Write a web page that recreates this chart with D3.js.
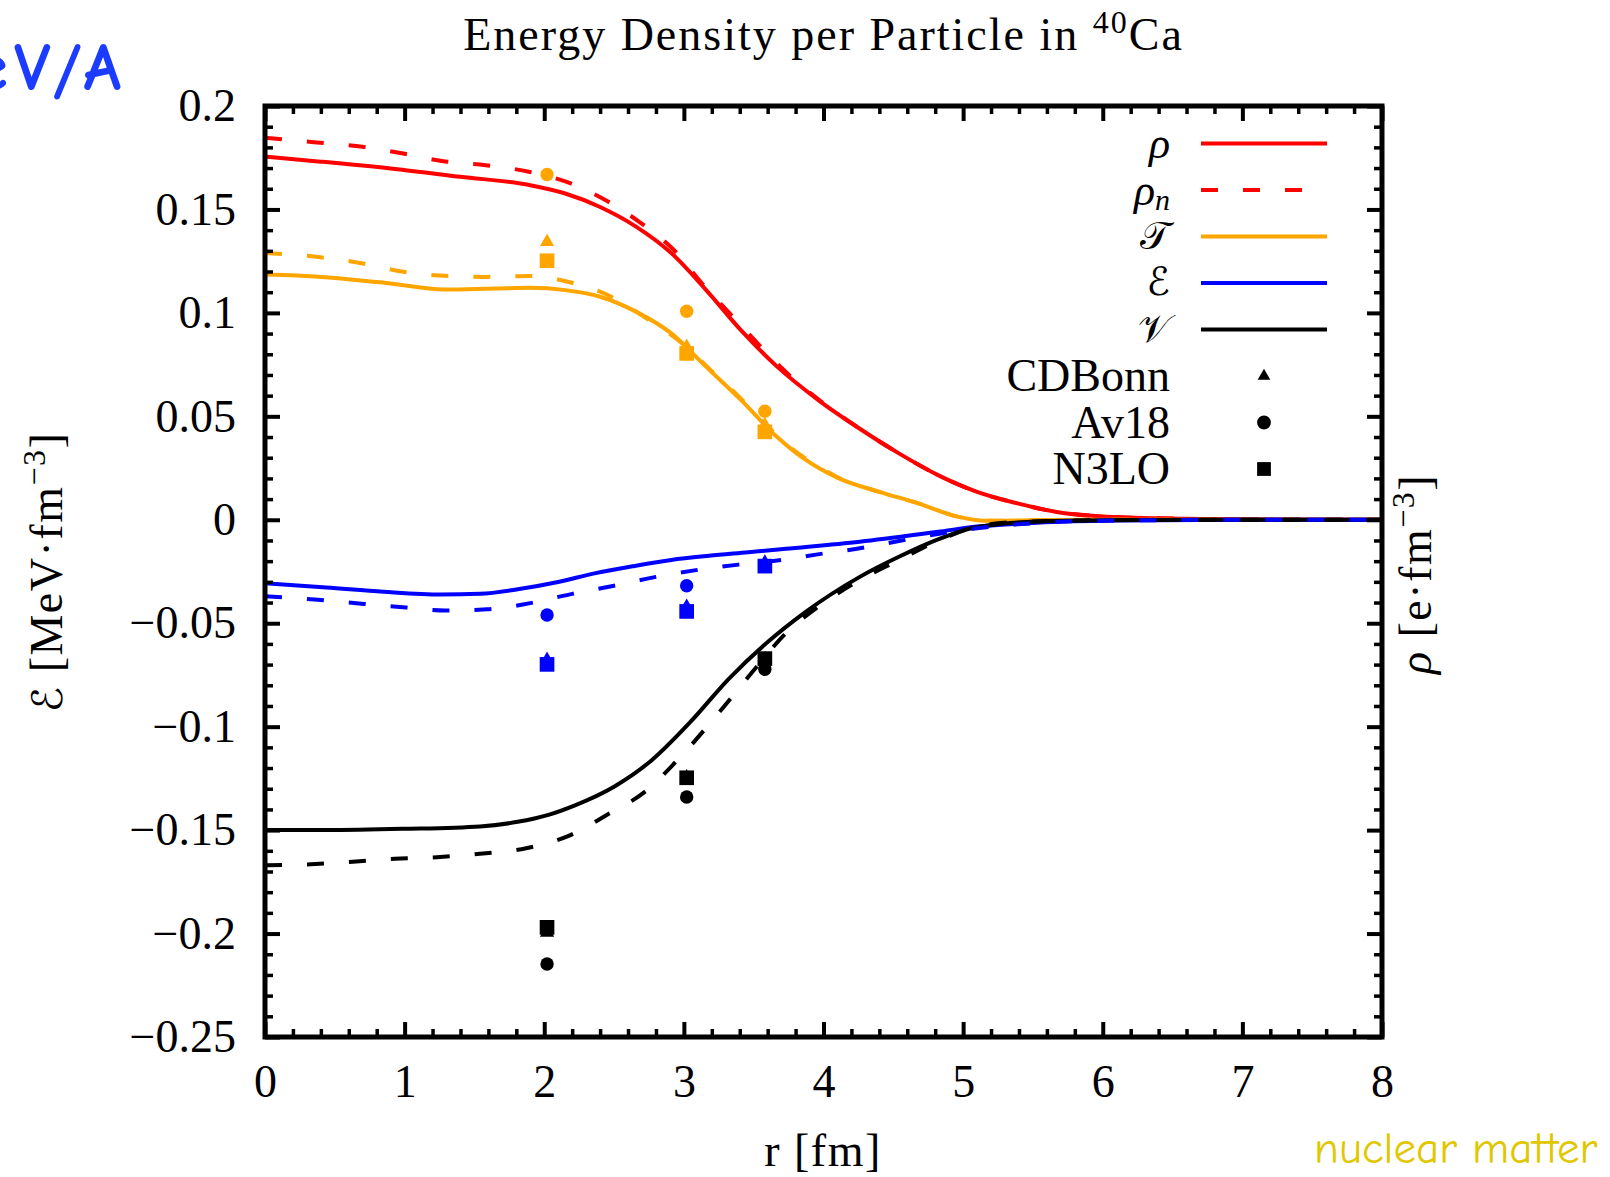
<!DOCTYPE html>
<html>
<head>
<meta charset="utf-8">
<script src="https://cdn.jsdelivr.net/npm/d3@7"></script>
<style>
  html, body { margin: 0; padding: 0; background: #fff; }
  svg { display: block; }
</style>
</head>
<body>
<svg id="chart" width="1610" height="1177"></svg>
<script>
// ---- radial profiles [r (fm), value] ----
const rhoTotal = [[0,0.1755],[0.4,0.1731],[0.9,0.1698],[1.4,0.1658],[1.9,0.1617],[2.15,0.1577],[2.4,0.1512],[2.66,0.1416],[2.91,0.1289],[3.16,0.1110],[3.41,0.0915],[3.66,0.0745],[3.97,0.0575],[4.26,0.0440],[4.54,0.0321],[4.82,0.0216],[5.1,0.0135],[5.39,0.0079],[5.67,0.0038],[5.95,0.0018],[6.4,0.0007],[7.1,0.0002],[8,0]];
const rhoNeutron = [[0,0.1846],[0.37,0.1824],[0.7,0.1803],[0.99,0.1770],[1.29,0.1732],[1.58,0.1714],[1.89,0.1682],[2.19,0.1626],[2.46,0.1537],[2.68,0.1440],[2.93,0.1303],[3.13,0.1142],[3.36,0.0975],[3.56,0.0830],[3.77,0.0690],[3.97,0.0578],[4.26,0.0440],[4.54,0.0321],[4.82,0.0216],[5.1,0.0135],[5.39,0.0079],[5.67,0.0038],[5.95,0.0018],[6.4,0.0007],[7.1,0.0002],[8,0]];
const tauTotal = [[0,0.1185],[0.4,0.1174],[0.9,0.1142],[1.28,0.1113],[1.65,0.1118],[1.9,0.1121],[2.15,0.1110],[2.4,0.1078],[2.66,0.1005],[2.91,0.0901],[3.16,0.0739],[3.41,0.0578],[3.66,0.0405],[3.85,0.0300],[4.11,0.0200],[4.40,0.0135],[4.68,0.0079],[4.96,0.0015],[5.16,-0.0005],[5.5,-0.0002],[6,0],[8,0]];
const tauNeutron = [[0,0.1290],[0.37,0.1271],[0.7,0.1239],[0.99,0.1199],[1.29,0.1179],[1.58,0.1174],[1.89,0.1178],[2.19,0.1147],[2.48,0.1078],[2.75,0.0965],[3.0,0.0846],[3.2,0.0718],[3.38,0.0605],[3.58,0.0465],[3.77,0.0345],[3.97,0.0255],[4.11,0.0202],[4.40,0.0135],[4.68,0.0079],[4.96,0.0015],[5.16,-0.0005],[5.5,-0.0002],[6,0],[8,0]];
const energyTotal = [[0,-0.0307],[0.44,-0.0327],[0.85,-0.0348],[1.26,-0.0361],[1.54,-0.0358],[1.81,-0.0336],[2.09,-0.0302],[2.36,-0.0259],[2.63,-0.0225],[2.91,-0.0194],[3.18,-0.0174],[3.46,-0.0157],[3.73,-0.0140],[4.26,-0.0106],[4.82,-0.0058],[5.1,-0.0033],[5.53,-0.0014],[6.1,-0.0004],[7,0],[8,0]];
const energyNeutron = [[0,-0.0370],[0.38,-0.0387],[0.71,-0.0407],[1.01,-0.0424],[1.29,-0.0438],[1.59,-0.0433],[1.89,-0.0404],[2.2,-0.0358],[2.5,-0.0319],[2.8,-0.0276],[3.1,-0.0242],[3.4,-0.0216],[3.71,-0.0193],[3.97,-0.0166],[4.26,-0.0138],[4.54,-0.0103],[4.82,-0.0069],[5.1,-0.0041],[5.39,-0.0022],[5.95,-0.0005],[7,0],[8,0]];
const potTotal = [[0,-0.1500],[0.44,-0.1500],[0.99,-0.1494],[1.54,-0.1482],[1.81,-0.1460],[2.03,-0.1426],[2.22,-0.1380],[2.5,-0.1290],[2.77,-0.1162],[3.05,-0.0975],[3.32,-0.0770],[3.6,-0.0591],[3.87,-0.0446],[4.26,-0.0276],[4.54,-0.0179],[4.82,-0.0095],[5.05,-0.0042],[5.25,-0.0021],[5.53,-0.0008],[6.0,-0.0002],[7,0],[8,0]];
const potNeutron = [[0,-0.1670],[0.33,-0.1665],[0.63,-0.1653],[0.93,-0.1639],[1.23,-0.1631],[1.54,-0.1614],[1.87,-0.1588],[2.17,-0.1529],[2.45,-0.1426],[2.72,-0.1315],[3.0,-0.1128],[3.24,-0.0941],[3.49,-0.0736],[3.73,-0.0549],[3.98,-0.0412],[4.26,-0.0291],[4.54,-0.0195],[4.82,-0.0101],[5.1,-0.0033],[5.4,-0.0010],[6,-0.0002],[7,0],[8,0]];

// ---- model calculations at selected radii ----
const rPoints = [2.02, 3.02, 3.58];
const tauCDBonn = [0.1343, 0.0836, 0.0458];
const tauAv18   = [0.1669, 0.1008, 0.0525];
const tauN3LO   = [0.1252, 0.0804, 0.0425];
const enCDBonn  = [-0.0677, -0.0420, -0.0207];
const enAv18    = [-0.0460, -0.0319, -0.0222];
const enN3LO    = [-0.0699, -0.0443, -0.0224];
const potCDBonn = [-0.1995, -0.1245, -0.0675];
const potAv18   = [-0.2147, -0.1340, -0.0723];
const potN3LO   = [-0.1970, -0.1247, -0.0671];

// ---- ticks ----
const xTicks = [0,1,2,3,4,5,6,7,8];
const xTickLabels = ["0","1","2","3","4","5","6","7","8"];
const yTicks = [-0.25,-0.2,-0.15,-0.1,-0.05,0,0.05,0.1,0.15,0.2];
const yTickLabels = ["\u22120.25","\u22120.2","\u22120.15","\u22120.1","\u22120.05","0","0.05","0.1","0.15","0.2"];
const xMinorTicks = d3.range(0, 40.5, 1).map(i => i / 5).filter(v => !Number.isInteger(v));
const yMinorTicks = d3.range(-25, 20.5, 1).map(i => i / 100).filter(v => Math.round(v * 100) % 5 !== 0);

// ---- legend ----
const legendLines = [
  {label: "\u03C1", sub: null, script: false, color: "#ff0000", dash: null},
  {label: "\u03C1", sub: "n", script: false, color: "#ff0000", dash: "17,25"},
  {label: "\u{1D4AF}", sub: null, script: true, color: "#ffa500", dash: null},
  {label: "\u2130", sub: null, script: true, color: "#0000ff", dash: null},
  {label: "\u{1D4B1}", sub: null, script: true, color: "#000000", dash: null}
];
const legendModels = ["CDBonn", "Av18", "N3LO"];

const SERIF = "Liberation Serif, Times New Roman, serif";
const HAND = "Comic Sans MS, Comic Neue, DejaVu Sans, sans-serif";

const svg = d3.select("#chart").attr("font-family", SERIF);
const plot = {left: 265, right: 1382, top: 106, bottom: 1037};
const x = d3.scaleLinear().domain([0, 8]).range([plot.left, plot.right]);
const y = d3.scaleLinear().domain([-0.25, 0.2]).range([plot.bottom, plot.top]);

svg.append("rect").attr("width", 1610).attr("height", 1177).attr("fill", "#fff");

// curves
const line = d3.line().x(d => x(d[0])).y(d => y(d[1])).curve(d3.curveMonotoneX);
const curves = [
  {data: rhoTotal, color: "#ff0000", dash: null},
  {data: rhoNeutron, color: "#ff0000", dash: "17,25"},
  {data: tauTotal, color: "#ffa500", dash: null},
  {data: tauNeutron, color: "#ffa500", dash: "17,25"},
  {data: energyTotal, color: "#0000ff", dash: null},
  {data: potTotal, color: "#000000", dash: null},
  {data: potNeutron, color: "#000000", dash: "17,25"},
  {data: energyNeutron, color: "#0000ff", dash: "17,25"}
];
svg.append("g").selectAll("path").data(curves).join("path")
  .attr("d", d => line(d.data))
  .attr("fill", "none")
  .attr("stroke", d => d.color)
  .attr("stroke-width", 4)
  .attr("stroke-dasharray", d => d.dash);

// model points
const shapes = {tri: d3.symbol().type(d3.symbolTriangle).size(88),
                circ: d3.symbol().type(d3.symbolCircle).size(141),
                sq: d3.symbol().type(d3.symbolSquare).size(215)};
const pointSets = [
  {vals: tauCDBonn, shape: "tri", color: "#ffa500"},
  {vals: tauAv18, shape: "circ", color: "#ffa500"},
  {vals: tauN3LO, shape: "sq", color: "#ffa500"},
  {vals: enCDBonn, shape: "tri", color: "#0000ff"},
  {vals: enAv18, shape: "circ", color: "#0000ff"},
  {vals: enN3LO, shape: "sq", color: "#0000ff"},
  {vals: potCDBonn, shape: "tri", color: "#000000"},
  {vals: potAv18, shape: "circ", color: "#000000"},
  {vals: potN3LO, shape: "sq", color: "#000000"}
];
const pts = svg.append("g");
pointSets.forEach(s => {
  pts.selectAll(null).data(s.vals).join("path")
    .attr("transform", (v, i) => `translate(${x(rPoints[i])},${y(v)})`)
    .attr("d", shapes[s.shape])
    .attr("fill", s.color);
});

// axes with inward ticks on all four sides
function styleAxis(g, labels) {
  g.select(".domain").remove();
  g.attr("font-size", 46).attr("font-family", SERIF);
  g.selectAll(".tick line").attr("stroke", "#000").attr("stroke-width", 4);
  g.selectAll(".tick text").attr("fill", "#000");
  if (!labels) g.selectAll(".tick text").remove();
}
function styleMinor(g) {
  g.select(".domain").remove();
  g.selectAll(".tick line").attr("stroke", "#000").attr("stroke-width", 3.5);
  g.selectAll(".tick text").remove();
}
const fmtX = d => xTickLabels[xTicks.indexOf(d)];
const fmtY = d => yTickLabels[yTicks.indexOf(d)];

svg.append("g").attr("transform", `translate(0,${plot.bottom})`)
  .call(d3.axisBottom(x).tickValues(xTicks).tickFormat(fmtX).tickSize(-15).tickPadding(27))
  .call(g => styleAxis(g, true));
svg.append("g").attr("transform", `translate(0,${plot.bottom})`)
  .call(d3.axisBottom(x).tickValues(xMinorTicks).tickSize(-8)).call(styleMinor);
svg.append("g").attr("transform", `translate(0,${plot.top})`)
  .call(d3.axisTop(x).tickValues(xTicks).tickSize(-15)).call(g => styleAxis(g, false));
svg.append("g").attr("transform", `translate(0,${plot.top})`)
  .call(d3.axisTop(x).tickValues(xMinorTicks).tickSize(-8)).call(styleMinor);

svg.append("g").attr("transform", `translate(${plot.left},0)`)
  .call(d3.axisLeft(y).tickValues(yTicks).tickFormat(fmtY).tickSize(-15).tickPadding(29))
  .call(g => styleAxis(g, true));
svg.append("g").attr("transform", `translate(${plot.left},0)`)
  .call(d3.axisLeft(y).tickValues(yMinorTicks).tickSize(-8)).call(styleMinor);
svg.append("g").attr("transform", `translate(${plot.right},0)`)
  .call(d3.axisRight(y).tickValues(yTicks).tickSize(-15)).call(g => styleAxis(g, false));
svg.append("g").attr("transform", `translate(${plot.right},0)`)
  .call(d3.axisRight(y).tickValues(yMinorTicks).tickSize(-8)).call(styleMinor);

// frame
svg.append("rect")
  .attr("x", plot.left).attr("y", plot.top)
  .attr("width", plot.right - plot.left).attr("height", plot.bottom - plot.top)
  .attr("fill", "none").attr("stroke", "#000").attr("stroke-width", 5);

// legend
const lg = svg.append("g");
const rowY = i => 143.5 + i * 46.5;
const legendTextX = 1170;
legendLines.forEach((d, i) => {
  const t = lg.append("text").attr("x", legendTextX).attr("y", rowY(i)).attr("dy", "0.33em")
    .attr("text-anchor", "end").attr("font-size", 44);
  if (d.sub) {
    t.append("tspan").attr("font-style", "italic").text(d.label);
    t.append("tspan").attr("font-style", "italic").attr("font-size", 30).attr("dy", 5).text(d.sub);
  } else if (d.script) {
    t.attr("font-size", 39).attr("dy", "0.32em");
    t.append("tspan").attr("font-family", "DejaVu Serif, DejaVu Sans, serif").text(d.label);
  } else {
    t.append("tspan").attr("font-style", "italic").text(d.label);
  }
  lg.append("line").attr("x1", 1201).attr("x2", 1327).attr("y1", rowY(i)).attr("y2", rowY(i))
    .attr("stroke", d.color).attr("stroke-width", 4).attr("stroke-dasharray", d.dash);
});
legendModels.forEach((name, j) => {
  const i = j + 5;
  lg.append("text").attr("x", legendTextX).attr("y", rowY(i)).attr("dy", "0.33em")
    .attr("text-anchor", "end").attr("font-size", 46).text(name);
  lg.append("path").attr("transform", `translate(1264,${rowY(i)})`)
    .attr("d", d3.symbol().type([d3.symbolTriangle, d3.symbolCircle, d3.symbolSquare][j]).size([70, 150, 190][j]))
    .attr("fill", "#000");
});

// titles and axis labels
const title = svg.append("text").attr("x", 823.5).attr("y", 50).attr("text-anchor", "middle")
  .attr("font-size", 46).attr("letter-spacing", 2);
title.append("tspan").text("Energy Density per Particle in ");
title.append("tspan").attr("font-size", 32).attr("dy", -17).text("40");
title.append("tspan").attr("dy", 17).text("Ca");

svg.append("text").attr("x", 823).attr("y", 1166).attr("text-anchor", "middle").attr("font-size", 46)
  .attr("letter-spacing", 1.5).text("r [fm]");

const yl = svg.append("text").attr("transform", "translate(62,572) rotate(-90)")
  .attr("text-anchor", "middle").attr("font-size", 46).attr("letter-spacing", 1.5);
yl.append("tspan").attr("font-family", "DejaVu Serif, DejaVu Sans, serif").attr("font-size", 42).text("\u2130");
yl.append("tspan").text(" [MeV\u00B7fm");
yl.append("tspan").attr("font-size", 32).attr("dy", -17).text("\u22123");
yl.append("tspan").attr("dy", 17).text("]");

const yr = svg.append("text").attr("transform", "translate(1431,574) rotate(-90)")
  .attr("text-anchor", "middle").attr("font-size", 46).attr("letter-spacing", 1.5);
yr.append("tspan").attr("font-style", "italic").text("\u03C1");
yr.append("tspan").text(" [e\u00B7fm");
yr.append("tspan").attr("font-size", 32).attr("dy", -17).text("\u22123");
yr.append("tspan").attr("dy", 17).text("]");

// annotations
svg.append("text").attr("x", 127).attr("y", 90).attr("text-anchor", "end")
  .attr("font-size", 68).attr("font-weight", "bold").attr("font-family", HAND)
  .attr("letter-spacing", 6).attr("fill", "#1b3cff").text("MeV/A");
svg.append("text").attr("x", 1314).attr("y", 1163)
  .attr("font-size", 45).attr("font-family", HAND)
  .attr("fill", "#e1c700").text("nuclear matter");
</script>
</body>
</html>
